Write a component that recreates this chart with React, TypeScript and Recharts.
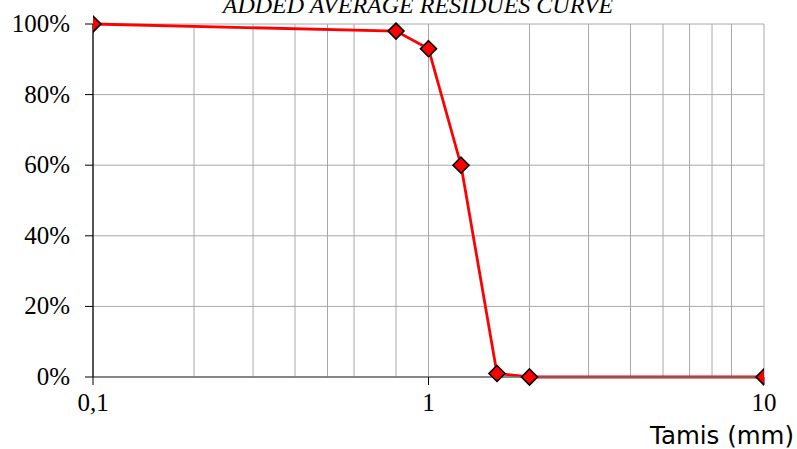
import React from "react";
import { LineChart, Line, XAxis, YAxis, CartesianGrid } from "recharts";

const sieveSizes = [0.1, 0.8, 1, 1.25, 1.6, 2, 10];
const residuePercent = [100, 98, 93, 60, 1, 0, 0];
const xTicks = [0.1, 1, 10];
const gridTicks = [0.1, 0.2, 0.3, 0.4, 0.5, 0.6, 0.7, 0.8, 0.9, 1, 2, 3, 4, 5, 6, 7, 8, 9, 10];
const yTicks = [0, 20, 40, 60, 80, 100];
const title = "ADDED AVERAGE RESIDUES CURVE";
const xTitle = "Tamis (mm)";

const data = sieveSizes.map((x, i) => ({ x, y: residuePercent[i] }));

const SERIF = "Liberation Serif, serif";

const Diamond = (props: any) => {
  const { cx, cy } = props;
  if (cx == null || cy == null) return null;
  const r = 8;
  return (
    <path
      d={`M${cx},${cy - r}L${cx + r},${cy}L${cx},${cy + r}L${cx - r},${cy}Z`}
      fill="#ff0000"
      stroke="#000000"
      strokeWidth={1.6}
    />
  );
};

const labelStyle: React.CSSProperties = { fontFamily: SERIF, fontSize: 25, fill: "#000" };

const XTick = (props: any) => {
  const { x, y, payload } = props;
  return (
    <text x={x} y={y} dy={18} textAnchor="middle" style={labelStyle}>
      {String(payload.value).replace(".", ",")}
    </text>
  );
};

const YTick = (props: any) => {
  const { x, y, payload } = props;
  return (
    <text x={x} y={y} dy={8} textAnchor="end" style={labelStyle}>
      {`${payload.value}%`}
    </text>
  );
};

export default function App() {
  return (
    <div style={{ position: "absolute", left: 0, top: 0, width: 797, height: 449, background: "#fff", overflow: "hidden" }}>
      <div
        style={{
          position: "absolute",
          left: 418,
          top: -9,
          transform: "translateX(-50%)",
          whiteSpace: "nowrap",
          fontFamily: SERIF,
          fontStyle: "italic",
          fontSize: 24,
          lineHeight: "28px",
          color: "#000",
        }}
      >
        {title}
      </div>
      <LineChart
        width={797}
        height={449}
        data={data}
        margin={{ top: 24, right: 33, left: 0, bottom: 0 }}
        style={{ fontFamily: SERIF }}
      >
        <XAxis
          xAxisId="grid"
          dataKey="x"
          type="number"
          scale="log"
          domain={[0.1, 10]}
          ticks={gridTicks}
          hide
          allowDataOverflow
        />
        <CartesianGrid xAxisId="grid" stroke="#a8a8a8" strokeWidth={1} />
        <XAxis
          dataKey="x"
          type="number"
          scale="log"
          domain={[0.1, 10]}
          ticks={xTicks}
          interval={0}
          allowDataOverflow
          height={72}
          tickSize={8}
          tickMargin={8}
          tick={<XTick />}
          axisLine={{ stroke: "#6e6e6e", strokeWidth: 1.5 }}
          tickLine={{ stroke: "#000" }}
        />
        <YAxis
          type="number"
          domain={[0, 100]}
          ticks={yTicks}
          interval={0}
          width={93}
          tickSize={8}
          tickMargin={15}
          tick={<YTick />}
          axisLine={{ stroke: "#000", strokeWidth: 1.2 }}
          tickLine={{ stroke: "#000" }}
        />
        <Line
          dataKey="y"
          type="linear"
          stroke="#ff0000"
          strokeWidth={2.8}
          dot={<Diamond />}
          activeDot={false}
          isAnimationActive={false}
        />
      </LineChart>
      <div
        style={{
          position: "absolute",
          right: 3,
          top: 422,
          whiteSpace: "nowrap",
          fontFamily: "DejaVu Sans, sans-serif",
          fontSize: 24.5,
          lineHeight: "28px",
          color: "#000",
        }}
      >
        {xTitle}
      </div>
    </div>
  );
}
